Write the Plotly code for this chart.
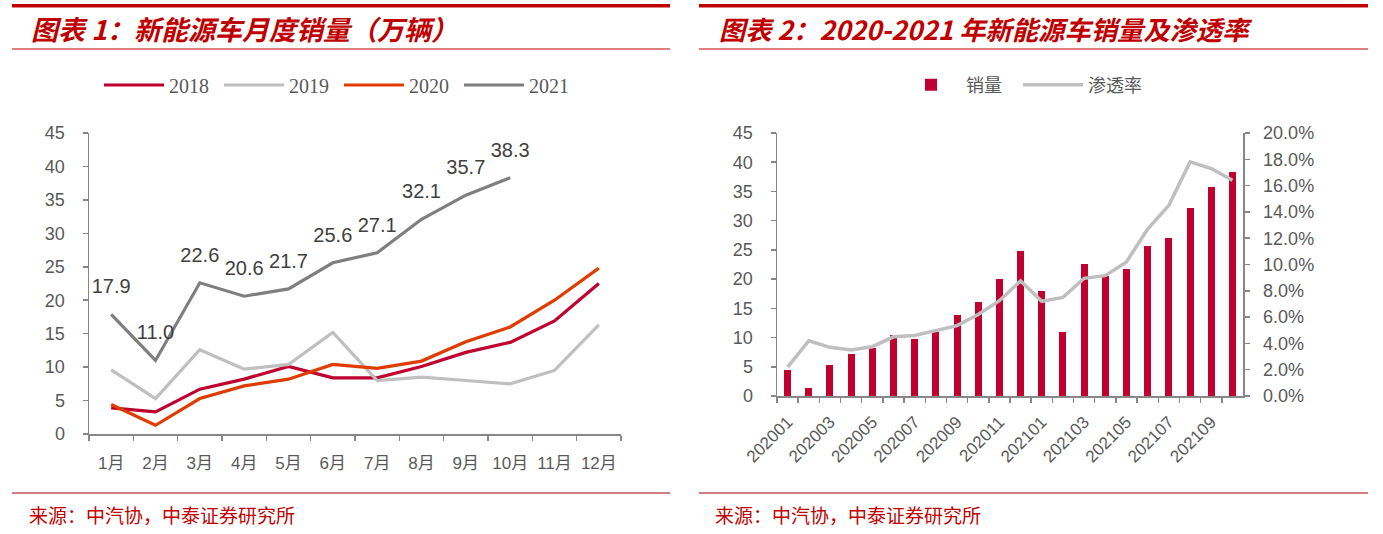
import plotly.graph_objects as go

W, H = 1383, 534

# ---------------- data ----------------
months = ["1月", "2月", "3月", "4月", "5月", "6月", "7月", "8月", "9月", "10月", "11月", "12月"]
sales_2018 = [3.9, 3.3, 6.7, 8.2, 10.1, 8.4, 8.4, 10.1, 12.2, 13.7, 16.9, 22.5]
sales_2019 = [9.6, 5.3, 12.6, 9.7, 10.4, 15.2, 8.0, 8.5, 8.0, 7.5, 9.5, 16.3]
sales_2020 = [4.4, 1.3, 5.3, 7.2, 8.2, 10.4, 9.8, 10.9, 13.8, 16.0, 20.0, 24.8]
sales_2021 = [17.9, 11.0, 22.6, 20.6, 21.7, 25.6, 27.1, 32.1, 35.7, 38.3]

periods = ["202001", "202002", "202003", "202004", "202005", "202006", "202007", "202008",
           "202009", "202010", "202011", "202012", "202101", "202102", "202103", "202104",
           "202105", "202106", "202107", "202108", "202109", "202110"]
period_sales = [4.4, 1.3, 5.3, 7.2, 8.2, 10.4, 9.8, 10.9, 13.8, 16.0, 20.0, 24.8,
                17.9, 11.0, 22.6, 20.6, 21.7, 25.6, 27.1, 32.1, 35.7, 38.3]
penetration = [0.022, 0.042, 0.037, 0.035, 0.0375, 0.045, 0.046, 0.050, 0.0535, 0.062, 0.0725, 0.0875,
               0.072, 0.075, 0.0895, 0.0915, 0.102, 0.127, 0.145, 0.178, 0.173, 0.164]
period_ticktext = [p if i % 2 == 0 else "" for i, p in enumerate(periods)]

year_names = ["2018", "2019", "2020", "2021"]
year_colors = ["#C0002F", "#BFBFBF", "#DE3C00", "#7F7F7F"]

# ---------------- styling ----------------
RED = "#C00000"
AXIS = "#878787"
TICKC = "#595959"
NUMFONT = "Liberation Sans, Arial, Noto Sans CJK SC"
CJK = "Noto Sans CJK SC"


def px_x(p):
    return p / W


def px_y(p):
    return 1 - p / H


fig = go.Figure()

for name, vals, color in zip(year_names, [sales_2018, sales_2019, sales_2020, sales_2021], year_colors):
    if name == "2021":
        fig.add_trace(go.Scatter(
            x=months[:len(vals)], y=vals, name=name, mode="lines+markers+text",
            line=dict(color=color, width=3.2),
            marker=dict(size=24, color="rgba(0,0,0,0)"),
            text=[f"{v:.1f}" for v in vals], textposition="top center",
            textfont=dict(family=NUMFONT, size=20, color="#404040"),
            xaxis="x", yaxis="y", legend="legend", hoverinfo="skip"))
    else:
        fig.add_trace(go.Scatter(
            x=months[:len(vals)], y=vals, name=name, mode="lines",
            line=dict(color=color, width=3.2),
            xaxis="x", yaxis="y", legend="legend", hoverinfo="skip"))

fig.add_trace(go.Bar(
    x=periods, y=period_sales, name="销量", marker=dict(color="#C0002F", line=dict(width=0)),
    width=0.33, xaxis="x2", yaxis="y2", legend="legend2"))
fig.add_trace(go.Scatter(
    x=periods, y=penetration, name="渗透率", mode="lines",
    line=dict(color="#BFBFBF", width=3.5), xaxis="x2", yaxis="y3", legend="legend3"))

axis_common = dict(showline=True, linecolor=AXIS, linewidth=1.5, ticks="outside",
                   ticklen=5, tickcolor=AXIS, tickwidth=1.5, showgrid=False, zeroline=False,
                   fixedrange=True, automargin=False)

legend_common = dict(orientation="h", xanchor="left", yanchor="middle", y=px_y(85),
                     entrywidthmode="pixels", itemwidth=60, bgcolor="rgba(0,0,0,0)",
                     itemclick=False, itemdoubleclick=False)

fig.update_layout(
    width=W, height=H,
    margin=dict(l=0, r=0, t=0, b=0, autoexpand=False),
    paper_bgcolor="white", plot_bgcolor="white",
    showlegend=True,
    bargap=0,
    xaxis=dict(domain=[px_x(89), px_x(621)], anchor="y", type="category",
               categoryorder="array", categoryarray=months, range=[-0.5, 11.5],
               tickson="boundaries", tickangle=0,
               tickfont=dict(family=NUMFONT, size=17, color=TICKC),
               ticklabelstandoff=13, **axis_common),
    yaxis=dict(domain=[px_y(434), px_y(133)], anchor="x", range=[0, 45], dtick=5,
               tickfont=dict(family=NUMFONT, size=18, color=TICKC), ticklabelstandoff=14,
               **axis_common),
    xaxis2=dict(domain=[px_x(777), px_x(1243)], anchor="y2", type="category",
                categoryorder="array", categoryarray=periods, range=[-0.5, 21.5],
                tickson="boundaries", tickmode="array", tickvals=periods, ticktext=period_ticktext,
                tickangle=-45, tickfont=dict(family=NUMFONT, size=17, color=TICKC),
                ticklabelstandoff=8, **axis_common),
    yaxis2=dict(domain=[px_y(396), px_y(133)], anchor="x2", range=[0, 45], dtick=5,
                tickfont=dict(family=NUMFONT, size=18, color=TICKC), ticklabelstandoff=14,
                **axis_common),
    yaxis3=dict(overlaying="y2", anchor="x2", side="right", range=[0, 0.2], dtick=0.02,
                tickformat=".1%", tickfont=dict(family=NUMFONT, size=18, color=TICKC),
                ticklabelstandoff=10, **axis_common),
    legend=dict(x=px_x(99), entrywidth=45,
                font=dict(family="Liberation Serif, Times New Roman", size=20, color=TICKC),
                **legend_common),
    legend2=dict(x=px_x(896), entrywidth=45,
                 font=dict(family=CJK, size=18, color=TICKC), **legend_common),
    legend3=dict(x=px_x(1018), entrywidth=60,
                 font=dict(family=CJK, size=18, color=TICKC), **legend_common),
)

shapes = []
for x0, x1 in [(12, 670), (699, 1368)]:
    shapes.append(dict(type="line", xref="paper", yref="paper", x0=px_x(x0), x1=px_x(x1),
                       y0=px_y(5.7), y1=px_y(5.7), line=dict(color=RED, width=3.5)))
    shapes.append(dict(type="line", xref="paper", yref="paper", x0=px_x(x0), x1=px_x(x1),
                       y0=px_y(49), y1=px_y(49), line=dict(color=RED, width=1.2)))
    shapes.append(dict(type="line", xref="paper", yref="paper", x0=px_x(x0), x1=px_x(x1),
                       y0=px_y(493), y1=px_y(493), line=dict(color="#A00000", width=1.2)))
fig.update_layout(shapes=shapes)

annotations = [
    dict(text="<b><i>图表 1：新能源车月度销量（万辆）</i></b>", x=px_x(29), y=px_y(28),
         xanchor="left", yanchor="middle", font=dict(family=CJK, size=27, color=RED)),
    dict(text="<b><i>图表 2：2020-2021 年新能源车销量及渗透率</i></b>", x=px_x(717), y=px_y(28),
         xanchor="left", yanchor="middle", font=dict(family=CJK, size=26.3, color=RED)),
    dict(text="来源：中汽协，中泰证券研究所", x=px_x(27), y=px_y(514),
         xanchor="left", yanchor="middle", font=dict(family=CJK, size=19, color=RED)),
    dict(text="来源：中汽协，中泰证券研究所", x=px_x(713), y=px_y(514),
         xanchor="left", yanchor="middle", font=dict(family=CJK, size=19, color=RED)),
]
for a in annotations:
    a.update(xref="paper", yref="paper", showarrow=False)
fig.update_layout(annotations=annotations)

fig.write_html("out.html",
               config={"displayModeBar": False, "staticPlot": True},
               post_script="document.body.style.margin='0';document.body.style.overflow='hidden';")
